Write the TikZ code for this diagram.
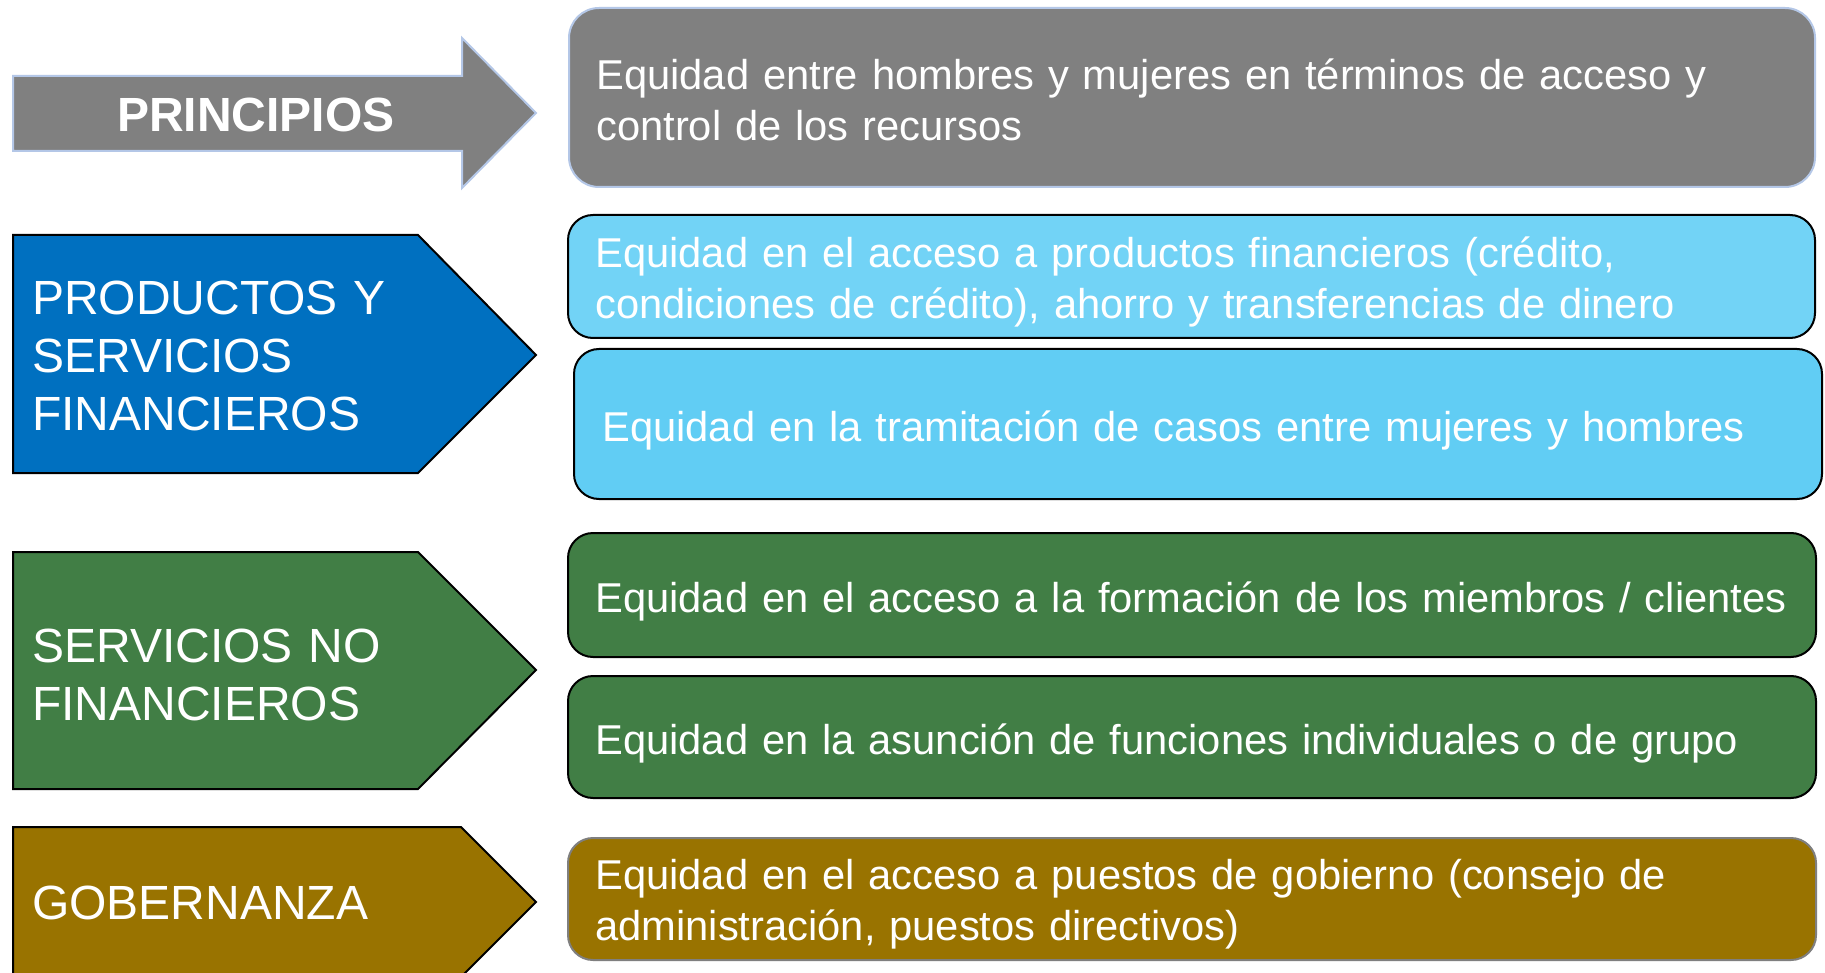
\documentclass[tikz,border=0pt]{standalone}
\usepackage{fontspec}
\setmainfont{Liberation Sans}
\definecolor{pgray}{HTML}{808080}
\definecolor{pedge}{HTML}{B4C7E7}
\definecolor{pblue}{HTML}{0070C0}
\definecolor{lblueA}{HTML}{72D3F6}
\definecolor{lblueB}{HTML}{61CDF4}
\definecolor{pgreen}{HTML}{417E45}
\definecolor{pgold}{HTML}{997300}
\definecolor{goldedge}{HTML}{7F7F7F}
\tikzset{
  catlabel/.style={text=white, inner sep=0pt, anchor=base west, font=\fontsize{48}{58}\selectfont, align=left, text width=480pt},
  boxtext/.style={text=white, inner sep=0pt, anchor=base west, font=\fontsize{41.7}{51}\selectfont, align=left, text width=1250pt},
  blackedge/.style={draw=black, line width=2pt},
}
\begin{document}
\begin{tikzpicture}[x=1pt,y=-1pt]
\clip (0,0) rectangle (1825,973);
\fill[white] (0,0) rectangle (1825,973);
% PRINCIPIOS arrow
\draw[fill=pgray, draw=pedge, line width=2pt]
  (13,76) -- (462,76) -- (462,38) -- (536,113) -- (462,188) -- (462,151) -- (13,151) -- cycle;
\node[text=white, inner sep=0pt, anchor=base, font=\fontsize{48}{57}\selectfont\bfseries] (princ) at (256,132) {PRINCIPIOS};
% gray box
\draw[fill=pgray, draw=pedge, line width=2pt, rounded corners=30pt] (569,8) rectangle (1815,187);
\node[boxtext] (tprinc) at (596,90) {Equidad entre hombres y mujeres en términos de acceso y\\control de los recursos};
% blue pentagon
\draw[fill=pblue, blackedge] (13,235) -- (418,235) -- (536,355) -- (418,473) -- (13,473) -- cycle;
\node[catlabel] (prod) at (32,315) {PRODUCTOS Y\\SERVICIOS\\FINANCIEROS};
% light blue boxes
\draw[fill=lblueA, blackedge, rounded corners=25pt] (568,215) rectangle (1815,338);
\node[boxtext] (tprodA) at (595,268) {Equidad en el acceso a productos financieros (crédito,\\condiciones de crédito), ahorro y transferencias de dinero};
\draw[fill=lblueB, blackedge, rounded corners=25pt] (574,349) rectangle (1822,499);
\node[boxtext] (tprodB) at (602,441) {Equidad en la tramitación de casos entre mujeres y hombres};
% green pentagon
\draw[fill=pgreen, blackedge] (13,552) -- (418,552) -- (536,670) -- (418,789) -- (13,789) -- cycle;
\node[catlabel] (serv) at (32,662) {SERVICIOS NO\\FINANCIEROS};
% green boxes
\draw[fill=pgreen, blackedge, rounded corners=25pt] (568,533) rectangle (1816,657);
\node[boxtext] (tservA) at (595,612) {Equidad en el acceso a la formación de los miembros / clientes};
\draw[fill=pgreen, blackedge, rounded corners=25pt] (568,676) rectangle (1816,798);
\node[boxtext] (tservB) at (595,754) {Equidad en la asunción de funciones individuales o de grupo};
% gold pentagon
\draw[fill=pgold, blackedge] (13,827) -- (461,827) -- (536,902) -- (461,977) -- (13,977) -- cycle;
\node[catlabel] (gob) at (32,919) {GOBERNANZA};
% gold box
\draw[fill=pgold, draw=goldedge, line width=2pt, rounded corners=25pt] (568,838) rectangle (1816,960);
\node[boxtext] (tgob) at (595,889) {Equidad en el acceso a puestos de gobierno (consejo de\\administración, puestos directivos)};
\end{tikzpicture}
\end{document}
